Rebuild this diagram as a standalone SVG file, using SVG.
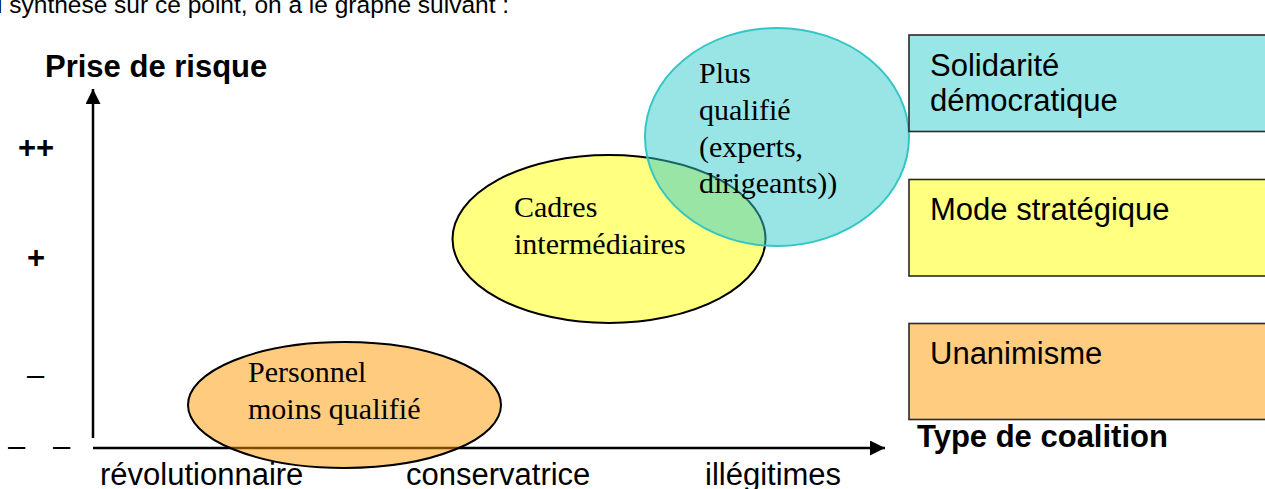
<svg xmlns="http://www.w3.org/2000/svg" width="1265" height="489" viewBox="0 0 1265 489">
<style>
.sans{font-family:"Liberation Sans",Arial,sans-serif;font-size:31px;fill:#000}
.bold{font-weight:bold}
.serif{font-family:"Liberation Serif","Times New Roman",serif;font-size:30px;fill:#000}
.axis{stroke:#000;stroke-width:2.5;fill:none}
.box{stroke:#2a2a2a;stroke-width:1.6}
</style>
<defs>
<marker id="arr" markerWidth="15" markerHeight="15" refX="15" refY="7.5" orient="auto" markerUnits="userSpaceOnUse">
<path d="M0,0 L15,7.5 L0,15 Z" fill="#000"/>
</marker>
</defs>
<rect width="1265" height="489" fill="#fff"/>
<text class="sans" x="-3" y="13" style="font-size:24.5px">l synthèse sur ce point, on a le graphe suivant :</text>
<g id="connectors">
<line class="axis" x1="93" y1="438" x2="93" y2="89" marker-end="url(#arr)"/>
<line class="axis" x1="93" y1="448" x2="885" y2="448" marker-end="url(#arr)"/>
</g>
<g id="axis-labels">
<text class="sans bold" x="45" y="77">Prise de risque</text>
<text class="sans bold" x="18" y="158">++</text>
<text class="sans bold" x="27" y="268">+</text>
<text class="sans" x="27" y="385">–</text>
<text class="sans" x="8" y="456">–<tspan x="53">–</tspan></text>
<text class="sans bold" x="917" y="447">Type de coalition</text>
<text class="sans" x="100" y="485">révolutionnaire</text>
<text class="sans" x="406" y="485">conservatrice</text>
<text class="sans" x="705" y="485">illégitimes</text>
</g>
<g id="node-personnel">
<ellipse cx="344.5" cy="405" rx="156.5" ry="63" fill="#ff9900" fill-opacity="0.5" stroke="#000" stroke-width="2"/>
<text class="serif" x="248" y="382">Personnel</text>
<text class="serif" x="248" y="419">moins qualifié</text>
</g>
<g id="node-cadres">
<ellipse cx="609" cy="239" rx="156.5" ry="84" fill="#ffff80" stroke="#000" stroke-width="2"/>
<text class="serif" x="514" y="217">Cadres</text>
<text class="serif" x="514" y="254">intermédiaires</text>
</g>
<g id="node-plus">
<ellipse cx="777" cy="137" rx="132" ry="109" fill="#33cccc" fill-opacity="0.5" stroke="#33c6c6" stroke-width="2"/>
<text class="serif" x="699" y="83">Plus</text>
<text class="serif" x="699" y="120">qualifié</text>
<text class="serif" x="699" y="157">(experts,</text>
<text class="serif" x="699" y="193">dirigeants))</text>
</g>
<g id="box-solidarite">
<rect class="box" x="909" y="35" width="370" height="96.5" fill="#99e6e6"/>
<text class="sans" x="930" y="76">Solidarité</text>
<text class="sans" x="930" y="111">démocratique</text>
</g>
<g id="box-strategique">
<rect class="box" x="909" y="179.5" width="370" height="96.5" fill="#ffff80"/>
<text class="sans" x="930" y="220">Mode stratégique</text>
</g>
<g id="box-unanimisme">
<rect class="box" x="909" y="323.5" width="370" height="96" fill="#ffcc80"/>
<text class="sans" x="930" y="364">Unanimisme</text>
</g>
</svg>
